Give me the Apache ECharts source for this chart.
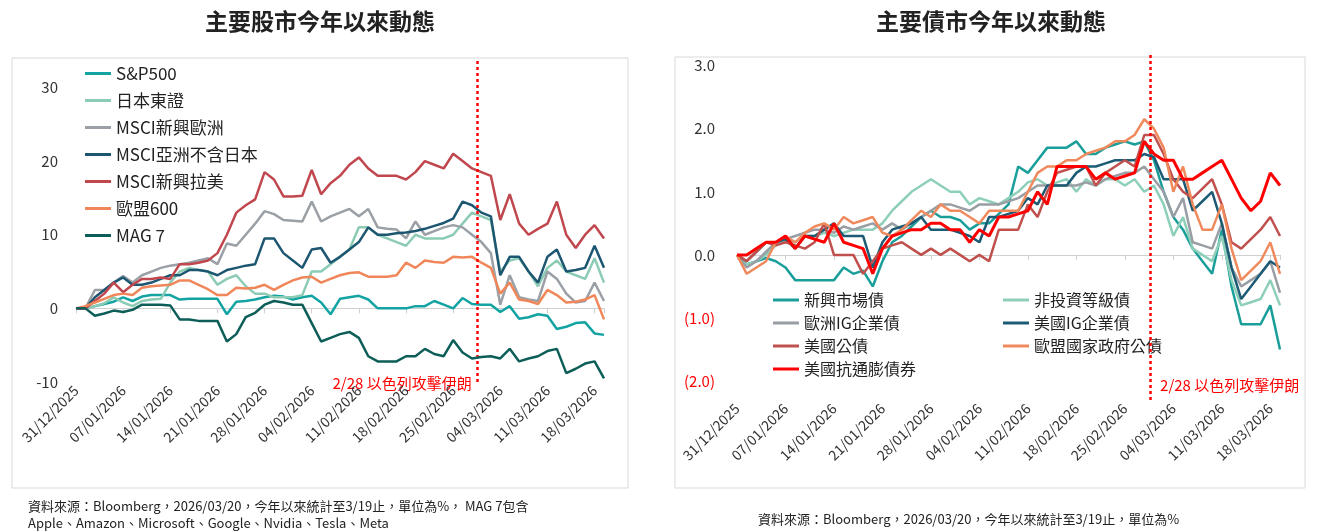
<!DOCTYPE html>
<html><head><meta charset="utf-8">
<script src="https://cdn.jsdelivr.net/npm/echarts@6/dist/echarts.min.js"></script>
<style>html,body{margin:0;padding:0;background:#fff}#c{width:1317px;height:532px}</style>
</head><body><div id="c"></div>
<script>
const tickLabels=['31/12/2025','07/01/2026','14/01/2026','21/01/2026','28/01/2026','04/02/2026','11/02/2026','18/02/2026','25/02/2026','04/03/2026','11/03/2026','18/03/2026'];
const eventIndex=42.6;
const eventText='2/28 以色列攻擊伊朗';
const eqNames=['S&P500','日本東證','MSCI新興歐洲','MSCI亞洲不含日本','MSCI新興拉美','歐盟600','MAG 7'];
const eqColors=['#14a3a3','#8ccbb4','#9aa0a6','#1c5670','#c0474e','#f0875a','#0d5e58'];
const spx=[0,0,0.3,0.6,0.9,1.5,1.0,1.6,1.8,1.8,1.8,1.2,1.3,1.3,1.3,1.3,-0.8,0.9,1.0,1.2,1.5,1.7,1.6,1.2,1.5,1.7,0.8,-0.8,1.3,1.5,1.7,1.2,0,0,0,0,0.3,0.3,1.0,0.5,0,1.4,0.6,0.5,0.5,-0.5,0.3,-1.4,-1.2,-0.8,-1.0,-2.8,-2.5,-2.0,-1.9,-3.4,-3.6];
const topix=[0,0,0.3,0.7,1.5,0.8,0.3,1.0,1.2,1.3,3.5,5.0,5.5,5.2,5.0,3.2,4.0,4.5,3.0,2.0,2.0,1.5,1.5,1.5,1.8,5.0,5.0,6.0,7.0,8.0,11.0,11.0,10.0,9.5,9.0,8.5,10.0,9.5,9.5,9.5,10.0,11.5,13.0,12.5,12.0,5.0,6.5,6.8,5.0,3.0,5.5,6.5,5.0,4.5,4.0,6.8,3.5];
const emEurope=[0,0,2.5,2.5,3.5,4.4,3.5,4.5,5.0,5.5,5.8,6.0,6.2,6.5,6.8,6.0,8.8,8.5,10.0,11.5,13.2,12.8,12.0,11.9,11.8,14.5,11.8,12.5,13.0,13.5,12.5,13.5,11.0,10.8,10.7,9.5,11.8,10.0,10.5,11.0,11.3,11.0,10.0,9.0,7.5,0.5,4.5,1.5,1.2,1.0,5.0,4.0,2.0,0.8,1.0,3.5,1.0];
const asiaXJ=[0,0,1.5,2.5,3.5,4.2,3.2,3.2,3.5,4.0,4.5,4.5,5.2,5.2,5.0,4.5,5.2,5.5,5.8,6.0,9.5,9.5,7.5,6.5,5.5,8.0,8.2,6.2,7.0,8.0,9.0,11.0,10.0,10.0,10.2,10.3,10.5,10.8,11.2,11.6,12.2,14.5,14.0,13.0,12.5,4.5,7.0,7.0,5.0,3.5,7.0,8.0,5.0,5.2,5.5,8.5,5.5];
const latam=[0,0,1.0,2.0,3.5,2.2,3.2,4.0,4.0,4.2,4.0,6.0,6.0,6.2,6.5,7.5,10.0,13.0,14.0,14.8,18.5,17.5,15.2,15.2,15.3,18.8,15.5,17.0,18.0,19.5,20.5,19.0,18.0,18.0,18.0,17.5,18.5,20.0,19.5,19.0,21.0,20.0,19.0,18.5,18.0,12.0,15.5,11.5,10.0,10.8,11.5,14.5,10.0,8.2,10.0,11.3,9.5];
const stoxx600=[0,0.3,0.8,1.3,1.8,2.0,1.8,2.8,3.0,3.1,3.2,3.8,3.8,3.2,2.6,1.8,1.8,2.8,2.7,2.8,3.2,2.5,3.2,3.8,4.2,4.3,3.5,4.0,4.5,4.8,4.9,4.3,4.3,4.3,4.5,6.2,5.5,6.5,6.3,6.2,7.0,6.9,7.0,6.2,5.5,2.0,3.5,1.2,1.0,0.6,2.5,1.8,0.8,0.9,1.2,1.8,-1.5];
const mag7=[0,0,-1.0,-0.7,-0.3,-0.5,-0.2,0.5,0.5,0.5,0.4,-1.5,-1.5,-1.7,-1.7,-1.7,-4.5,-3.5,-1.2,-0.6,0.5,1.0,0.8,0.5,0.5,-2.0,-4.5,-4.0,-3.5,-3.2,-4.0,-6.5,-7.2,-7.2,-7.2,-6.5,-6.5,-5.5,-6.2,-6.5,-4.3,-6.0,-6.8,-6.6,-6.5,-6.8,-5.5,-7.2,-6.8,-6.5,-5.8,-5.5,-8.8,-8.2,-7.5,-7.2,-9.5];
const eqData=[spx,topix,emEurope,asiaXJ,latam,stoxx600,mag7];

const bdNames=['新興市場債','非投資等級債','歐洲IG企業債','美國IG企業債','美國公債','歐盟國家政府公債','美國抗通膨債券'];
const bdColors=['#1a9e9a','#8ecfb9','#999ea4','#1d5a73','#c0504d','#f08a5d','#ff0000'];
const emBond=[0,-0.15,-0.1,-0.05,-0.1,-0.2,-0.4,-0.4,-0.4,-0.4,-0.4,-0.2,-0.3,-0.25,-0.5,-0.1,0.2,0.3,0.45,0.6,0.7,0.6,0.6,0.55,0.4,0.5,0.5,0.65,0.8,1.4,1.3,1.5,1.7,1.7,1.7,1.8,1.6,1.6,1.7,1.75,1.8,1.75,1.8,1.5,1.0,0.6,0.4,0.1,-0.1,-0.3,0.4,-0.5,-1.1,-1.1,-1.1,-0.8,-1.5];
const highYield=[0,-0.15,-0.1,0,0.15,0.25,0.2,0.3,0.3,0.35,0.3,0.35,0.4,0.4,0.4,0.5,0.7,0.85,1.0,1.1,1.2,1.1,1.0,1.0,0.8,0.9,0.85,0.8,0.9,1.0,1.15,1.2,1.1,1.15,1.2,1.0,1.2,1.1,1.2,1.2,1.1,1.2,1.0,1.1,0.8,0.3,0.6,0.1,0,-0.1,0.3,-0.4,-0.8,-0.75,-0.7,-0.4,-0.8];
const euIG=[0,-0.2,-0.1,0.05,0.2,0.25,0.3,0.35,0.4,0.4,0.35,0.45,0.4,0.45,0.5,0.4,0.5,0.4,0.5,0.6,0.7,0.8,0.8,0.75,0.7,0.8,0.8,0.8,0.85,0.9,1.0,1.1,1.1,1.1,1.1,1.1,1.15,1.1,1.2,1.25,1.3,1.3,1.4,1.2,1.0,0.6,0.9,0.2,0.15,0.1,0.5,-0.2,-0.5,-0.4,-0.3,-0.1,-0.6];
const usIG=[0,-0.1,0.05,0.2,0.2,0.25,0.1,0.3,0.3,0.4,0.5,0.3,0.3,0.3,-0.2,0.2,0.4,0.45,0.5,0.6,0.4,0.4,0.4,0.35,0.3,0.2,0.6,0.6,0.65,0.7,0.9,0.8,1.1,1.1,1.1,1.3,1.4,1.4,1.45,1.5,1.5,1.5,1.6,1.55,1.2,1.2,1.2,0.7,0.85,1.0,0.5,-0.2,-0.7,-0.5,-0.3,-0.1,-0.2];
const ust=[0,-0.1,0.05,0.2,0.15,0.2,0.15,0.1,0.2,0.5,0,0,0,-0.3,-0.1,0.1,0.15,0.2,0.1,0,0.1,0,0.1,0,-0.1,0,-0.1,0.4,0.4,0.4,0.8,0.6,1.0,1.3,1.35,1.4,1.4,1.1,1.3,1.4,1.5,1.4,1.9,1.9,1.6,1.2,1.0,0.9,1.05,1.2,0.8,0.2,0.1,0.25,0.4,0.6,0.3];
const euGov=[0,-0.3,-0.2,-0.1,0.2,0.3,0.2,0.35,0.45,0.5,0.4,0.6,0.5,0.55,0.6,0.35,0.3,0.4,0.55,0.7,0.6,0.8,0.7,0.7,0.6,0.5,0.7,0.7,0.7,0.7,1.0,1.3,1.4,1.4,1.5,1.5,1.6,1.65,1.7,1.8,1.8,1.9,2.15,2.0,1.7,1.0,1.4,0.8,0.4,0.4,0.8,0.1,-0.4,-0.25,-0.1,0.2,-0.3];
const tips=[0,0,0.1,0.2,0.2,0.3,0.1,0.3,0.25,0.2,0.5,0.2,0.15,0.1,-0.3,0.1,0.3,0.35,0.4,0.4,0.5,0.5,0.4,0.4,0.2,0.4,0.3,0.6,0.6,0.65,0.7,1.0,0.8,1.4,1.4,1.4,1.4,1.2,1.3,1.2,1.25,1.3,1.8,1.6,1.5,1.5,1.2,1.2,1.3,1.4,1.5,1.2,0.9,0.7,0.85,1.3,1.1];
const bdData=[emBond,highYield,euIG,usIG,ust,euGov,tips];

const font='"Noto Sans CJK TC","Noto Sans",sans-serif';
const N=spx.length-1;
function xAxes(g){
  const lab=v=>{const i=Math.round(v);return (i%5===0&&tickLabels[i/5])?tickLabels[i/5]:'';};
  return [
    {gridIndex:g,type:'value',min:0,max:N,interval:5,axisLine:{onZero:true,lineStyle:{color:'#d0d0d0'}},axisTick:{show:true,length:5,lineStyle:{color:'#d0d0d0'}},axisLabel:{show:false},splitLine:{show:false}},
    {gridIndex:g,type:'value',min:0,max:N,interval:5,position:'bottom',axisLine:{show:false,onZero:false},axisTick:{show:false},splitLine:{show:false},
     axisLabel:{rotate:45,formatter:lab,color:'#333',fontSize:14,fontFamily:font,showMaxLabel:false,margin:6}}
  ];
}
const mk=(names,colors,data,xi,yi,widths)=>names.map((n,k)=>({name:n,type:'line',xAxisIndex:xi,yAxisIndex:yi,symbol:'none',smooth:false,
  lineStyle:{width:widths?widths[k]:2.5,color:colors[k]},itemStyle:{color:colors[k]},z:k===6?5:2,
  data:data[k].map((v,i)=>[i,v])}));
const eqSeries=mk(eqNames,eqColors,eqData,0,0);
const bdSeries=mk(bdNames,bdColors,bdData,2,1,[2.5,2.5,2.5,2.5,2.5,2.5,3]);
const vline=()=>({silent:true,symbol:'none',lineStyle:{color:'#ff0000',type:[3,3],width:2.5},label:{show:false},data:[{xAxis:eventIndex}]});
eqSeries[0].markLine=vline();
bdSeries[0].markLine=vline();

const legendCommon={orient:'vertical',icon:'rect',itemWidth:26,itemHeight:3,textStyle:{fontSize:17,color:'#222',fontFamily:font}};
const chart=echarts.init(document.getElementById('c'));
const baseGraphic=[
    {type:'rect',shape:{x:12,y:58,width:616,height:430},style:{fill:'none',stroke:'#d9d9d9',lineWidth:1}},
    {type:'rect',shape:{x:675,y:57,width:630,height:431},style:{fill:'none',stroke:'#d9d9d9',lineWidth:1}},
    {type:'text',left:28,top:498,style:{text:'資料來源：Bloomberg，2026/03/20，今年以來統計至3/19止，單位為%， MAG 7包含\nApple、Amazon、Microsoft、Google、Nvidia、Tesla、Meta',font:'13px '+font,fill:'#222',lineHeight:17}},
    {type:'text',left:758,top:513,style:{text:'資料來源：Bloomberg，2026/03/20，今年以來統計至3/19止，單位為%',font:'13px '+font,fill:'#222'}}
];
chart.setOption({
  animation:false,
  title:[
    {text:'主要股市今年以來動態',left:315,top:5,textAlign:'center',textStyle:{fontSize:23,fontWeight:'bold',color:'#222',fontFamily:font}},
    {text:'主要債市今年以來動態',left:986,top:5,textAlign:'center',textStyle:{fontSize:23,fontWeight:'bold',color:'#222',fontFamily:font}}
  ],
  graphic:baseGraphic,
  legend:[
    Object.assign({},legendCommon,{left:80,top:60,itemGap:10,data:eqNames}),
    Object.assign({},legendCommon,{left:768,top:287,itemGap:7,textStyle:{fontSize:16,color:'#222',fontFamily:font},data:['新興市場債','歐洲IG企業債','美國公債','美國抗通膨債券']}),
    Object.assign({},legendCommon,{left:998,top:287,itemGap:7,textStyle:{fontSize:16,color:'#222',fontFamily:font},data:['非投資等級債','美國IG企業債','歐盟國家政府公債']})
  ],
  grid:[
    {left:76,top:58,width:528,height:324},
    {left:737,top:53,width:543,height:347}
  ],
  xAxis:[...xAxes(0),...xAxes(1)],
  yAxis:[
    {gridIndex:0,type:'value',min:-10,max:34,interval:2,splitLine:{show:false},axisLine:{show:false},axisTick:{show:false},
     axisLabel:{color:'#333',fontSize:15,fontFamily:font,margin:18,formatter:v=>(Math.round(v)%10===0)?String(Math.round(v)):''}},
    {gridIndex:1,type:'value',min:-2.3,max:3.2,interval:0.1,splitLine:{show:false},axisLine:{show:false},axisTick:{show:false},
     axisLabel:{fontSize:15,fontFamily:font,margin:22,
       formatter:v=>{const r=Math.round(v*10);if(r%10!==0)return '';const n=r/10;return n<0?'{neg|('+Math.abs(n).toFixed(1)+')}':n.toFixed(1);},
       color:'#333',rich:{neg:{color:'#ff0000',fontSize:15,fontFamily:font}}}}
  ],
  series:[...eqSeries,...bdSeries]
});
const pL=chart.convertToPixel({xAxisIndex:0,yAxisIndex:0},[eventIndex,-11]);
const pR=chart.convertToPixel({xAxisIndex:2,yAxisIndex:1},[eventIndex,-2.0]);
chart.setOption({graphic:baseGraphic.concat([
  {type:'text',x:pL[0]-6,y:pL[1]-6,style:{text:eventText,font:'15px '+font,fill:'#ff0000',align:'right',verticalAlign:'middle'}},
  {type:'text',x:pR[0]+10,y:pR[1]+4,style:{text:eventText,font:'15px '+font,fill:'#ff0000',align:'left',verticalAlign:'middle'}}
])});
</script></body></html>
